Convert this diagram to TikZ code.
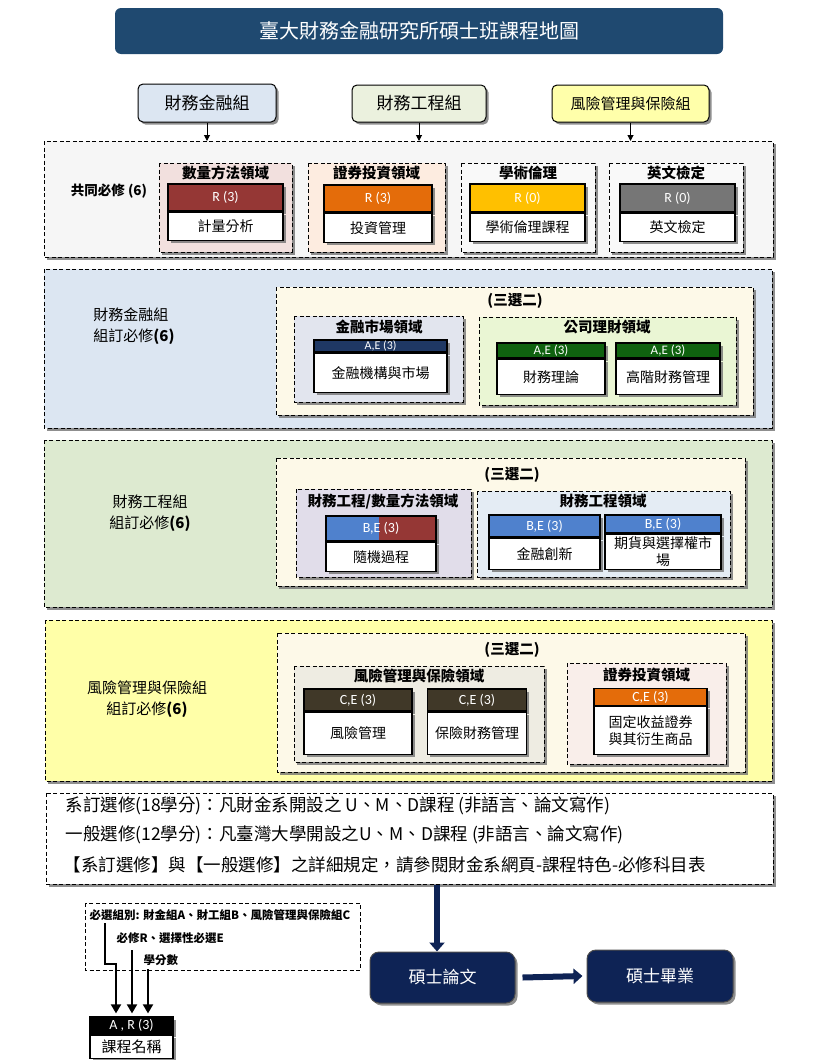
\documentclass[tikz,border=0pt]{standalone}
\usepackage{fontspec}
\setmainfont{Noto Sans CJK TC}
\newfontfamily\hdfont{Carlito}
\usetikzlibrary{positioning,shadows,arrows.meta}

\definecolor{titlebg}{RGB}{31,73,112}
\definecolor{finbg}{RGB}{220,230,242}
\definecolor{engbg}{RGB}{221,234,208}
\definecolor{enggrp}{RGB}{235,241,222}
\definecolor{riskbg}{RGB}{255,255,168}
\definecolor{riskgrp}{RGB}{255,255,170}
\definecolor{commbg}{RGB}{246,246,246}
\definecolor{pickbg}{RGB}{253,249,232}
\definecolor{quantbg}{RGB}{242,224,222}
\definecolor{investbg}{RGB}{253,236,224}
\definecolor{ethicbg}{RGB}{249,249,249}
\definecolor{mktbg}{RGB}{226,229,238}
\definecolor{corpbg}{RGB}{234,246,212}
\definecolor{fqbg}{RGB}{225,221,234}
\definecolor{fengbg}{RGB}{228,236,244}
\definecolor{riskdombg}{RGB}{238,236,226}
\definecolor{investbgb}{RGB}{249,238,234}
\definecolor{hdred}{RGB}{149,55,53}
\definecolor{hdorange}{RGB}{228,108,10}
\definecolor{hdgold}{RGB}{255,192,0}
\definecolor{hdgrey}{RGB}{118,118,118}
\definecolor{hdnavy}{RGB}{31,56,100}
\definecolor{hdgreen}{RGB}{15,98,15}
\definecolor{hdblue}{RGB}{79,129,205}
\definecolor{hdolive}{RGB}{64,56,40}
\definecolor{endnavy}{RGB}{14,35,85}

\tikzset{
  shad/.style={drop shadow={shadow xshift=2.5pt,shadow yshift=-2.5pt,fill=black!55,opacity=.8}},
  region/.style={draw,line width=1pt,dash pattern=on 4pt off 2.5pt,shad},
  grp/.style={draw,line width=1pt,rounded corners=5pt,shad,font=\fontsize{17}{19}\selectfont},
  garrow/.style={line width=1pt,-{Triangle[length=6pt,width=6pt]}},
  lbl/.style={font=\fontsize{15}{21}\selectfont},
  dom/.style={font=\bfseries\fontsize{14.5}{16}\selectfont},
  pick/.style={font=\bfseries\fontsize{14.5}{16}\selectfont},
  hd/.style={draw,line width=1.2pt,inner sep=0pt,text=white,shad,font=\hdfont\fontsize{14}{15}\selectfont},
  bd/.style={draw,line width=1.2pt,fill=white,inner sep=0.5pt,align=center,shad,anchor=north,font=\fontsize{14}{16}\selectfont},
  note/.style={anchor=west,font=\fontsize{17.5}{20}\selectfont},
  leg/.style={anchor=west,font=\bfseries\fontsize{11.5}{13}\selectfont},
  larrow/.style={line width=1.8pt,shorten >=3pt,-{Triangle[length=9pt,width=10pt]}},
  endbox/.style={fill=endnavy,draw=black!70,line width=1pt,rounded corners=9pt,shad,text=white,font=\fontsize{17}{19}\selectfont},
  bigarrow/.style={endnavy,line width=6pt,-{Triangle[length=9pt,width=15pt]}}
}

\begin{document}
\begin{tikzpicture}[x=1pt,y=-1pt]
\useasboundingbox (0,0) rectangle (818,1060);

% title and groups
\node [fill=titlebg,rounded corners=6pt,minimum width=608pt,minimum height=46pt,text=white,font=\fontsize{20}{22}\selectfont] (title) at (419,31) {臺大財務金融研究所碩士班課程地圖};
\node [grp,fill=finbg,minimum width=138pt,minimum height=38pt] (gfin) at (207,103) {財務金融組};
\node [grp,fill=enggrp,minimum width=134pt,minimum height=37pt] (geng) at (419,103.5) {財務工程組};
\node [grp,fill=riskgrp,minimum width=157pt,minimum height=37pt,font=\fontsize{15}{17}\selectfont] (grisk) at (630.5,103.5) {風險管理與保險組};

% common
\draw [region,fill=commbg] (44,141) rectangle (773,257);
\coordinate (s1) at (0,141);
\draw [garrow] (gfin.south) -- (gfin.south |- s1);
\draw [garrow] (geng.south) -- (geng.south |- s1);
\draw [garrow] (grisk.south) -- (grisk.south |- s1);
\node [font=\bfseries\fontsize{13.5}{15}\selectfont] (req) at (109,191) {共同必修 (6)};
\draw [region,fill=quantbg] (159,163) rectangle (292,252);
\draw [region,fill=investbg] (308,163) rectangle (445,252);
\draw [region,fill=ethicbg] (461,163) rectangle (595,252);
\draw [region,fill=ethicbg] (609,163) rectangle (743,252);
\node [dom] (d1) at (225.5,173) {數量方法領域};
\node [dom] (d2) at (376.5,173) {證券投資領域};
\node [dom] (d3) at (528,173) {學術倫理};
\node [dom] (d4) at (676,173) {英文檢定};
\node [hd,fill=hdred,minimum width=115pt,minimum height=27pt] (c1h) at (225.5,197.5) {R (3)};
\node [bd,minimum width=115pt,minimum height=28pt] (c1b) at (c1h.south) {計量分析};
\node [hd,fill=hdorange,minimum width=108pt,minimum height=27pt] (c2h) at (378,198.5) {R (3)};
\node [bd,minimum width=108pt,minimum height=29pt] (c2b) at (c2h.south) {投資管理};
\node [hd,fill=hdgold,minimum width=115pt,minimum height=28pt] (c3h) at (527.5,198) {R (0)};
\node [bd,minimum width=115pt,minimum height=28pt] (c3b) at (c3h.south) {學術倫理課程};
\node [hd,fill=hdgrey,minimum width=115pt,minimum height=28pt] (c4h) at (677.5,198) {R (0)};
\node [bd,minimum width=115pt,minimum height=28pt] (c4b) at (c4h.south) {英文檢定};

% finance group
\draw [region,fill=finbg] (44,269) rectangle (772,428);
\node [lbl,align=left] (finreq) at (134,326) {財務金融組\\組訂必修\textbf{(6)}};
\draw [region,fill=pickbg] (276,287) rectangle (753,415);
\node [pick] (p1) at (515,301) {(三選二)};
\draw [region,fill=mktbg] (294,316) rectangle (463,402);
\draw [region,fill=corpbg] (479,317) rectangle (736,405);
\node [dom] (d5) at (379,327) {金融市場領域};
\node [dom] (d6) at (607,327) {公司理財領域};
\node [hd,fill=hdnavy,minimum width=133pt,minimum height=12pt,font=\hdfont\fontsize{12}{12}\selectfont] (c5h) at (380.5,346) {A,E (3)};
\node [bd,minimum width=133pt,minimum height=39pt] (c5b) at (c5h.south) {金融機構與市場};
\node [hd,fill=hdgreen,minimum width=108pt,minimum height=15pt,font=\hdfont\fontsize{13}{14}\selectfont] (c6h) at (551,350.5) {A,E (3)};
\node [bd,minimum width=108pt,minimum height=35pt] (c6b) at (c6h.south) {財務理論};
\node [hd,fill=hdgreen,minimum width=104pt,minimum height=15pt,font=\hdfont\fontsize{13}{14}\selectfont] (c7h) at (668,350.5) {A,E (3)};
\node [bd,minimum width=104pt,minimum height=35pt] (c7b) at (c7h.south) {高階財務管理};

% engineering group
\draw [region,fill=engbg] (44,440) rectangle (772,607);
\node [lbl,align=center] (engreq) at (150,513) {財務工程組\\組訂必修\textbf{(6)}};
\draw [region,fill=pickbg] (276,458) rectangle (745,586);
\node [pick] (p2) at (512,475) {(三選二)};
\draw [region,fill=fqbg] (296,489) rectangle (471,577);
\draw [region,fill=fengbg] (477,491) rectangle (730,577);
\node [dom] (d7) at (383,501) {財務工程/數量方法領域};
\node [dom] (d8) at (603,501) {財務工程領域};
\node [hd,fill=hdblue,minimum width=110pt,minimum height=25pt,
  path picture={\fill[hdred] ([xshift=-2pt]path picture bounding box.north) rectangle (path picture bounding box.south east);}] (c8h) at (381,528.5) {B,E (3)};
\node [bd,minimum width=110pt,minimum height=29pt] (c8b) at (c8h.south) {隨機過程};
\node [hd,fill=hdblue,minimum width=111pt,minimum height=22pt] (c9h) at (544.5,526) {B,E (3)};
\node [bd,minimum width=111pt,minimum height=31pt] (c9b) at (c9h.south) {金融創新};
\node [hd,fill=hdblue,minimum width=116pt,minimum height=18pt] (c10h) at (663,524) {B,E (3)};
\node [bd,minimum width=116pt,minimum height=35pt,font=\fontsize{14}{16.5}\selectfont] (c10b) at (c10h.south) {期貨與選擇權市\\場};

% risk group
\draw [region,fill=riskbg] (45,620) rectangle (772,781);
\node [lbl,align=center] (riskreq) at (147,699) {風險管理與保險組\\組訂必修\textbf{(6)}};
\draw [region,fill=pickbg] (277,633) rectangle (745,772);
\node [pick] (p3) at (512,650) {(三選二)};
\draw [region,fill=riskdombg] (294,666) rectangle (544,762);
\draw [region,fill=investbgb] (567,663) rectangle (726,764);
\node [dom] (d9) at (419,676) {風險管理與保險領域};
\node [dom] (d10) at (646.5,675) {證券投資領域};
\node [hd,fill=hdolive,minimum width=108pt,minimum height=22pt] (c11h) at (358,700) {C,E (3)};
\node [bd,minimum width=108pt,minimum height=42pt] (c11b) at (c11h.south) {風險管理};
\node [hd,fill=hdolive,minimum width=99pt,minimum height=22pt] (c12h) at (477,700) {C,E (3)};
\node [bd,minimum width=99pt,minimum height=42pt] (c12b) at (c12h.south) {保險財務管理};
\node [hd,fill=hdorange,minimum width=113pt,minimum height=17pt] (c13h) at (650.5,697) {C,E (3)};
\node [bd,minimum width=113pt,minimum height=48pt,font=\fontsize{14}{17}\selectfont] (c13b) at (c13h.south) {固定收益證券\\與其衍生商品};

% electives
\draw [region,fill=white] (46,793) rectangle (773,884);
\node [note] (el1) at (62,806) {系訂選修(18學分)：凡財金系開設之 U、M、D課程 (非語言、論文寫作)};
\node [note] (el2) at (62,835) {一般選修(12學分)：凡臺灣大學開設之U、M、D課程 (非語言、論文寫作)};
\node [note] (el3) at (60,865) {【系訂選修】與【一般選修】之詳細規定，請參閱財金系網頁-課程特色-必修科目表};

% thesis
\node [endbox,minimum width=145pt,minimum height=51pt] (thesis) at (442.5,977.5) {碩士論文};
\node [endbox,minimum width=146pt,minimum height=52pt] (grad) at (660,976) {碩士畢業};
\coordinate (nb) at (437,885);
\draw [bigarrow] (nb) -- (nb |- thesis.north);
\draw [bigarrow] ([xshift=7pt]thesis.east) -- ([xshift=-4pt]grad.west);

% legend
\draw [line width=0.9pt,dash pattern=on 4pt off 2.5pt] (85,903) rectangle (360,970);
\node [leg] (lg1) at (86,915) {必選組別: 財金組A、財工組B、風險管理與保險組C};
\node [leg] (lg2) at (113,938) {必修R、選擇性必選E};
\node [leg] (lg3) at (140,960) {學分數};
\node [hd,fill=black,minimum width=83pt,minimum height=17pt,font=\hdfont\fontsize{14}{15}\selectfont] (lh) at (131.5,1025.5) {A , R (3)};
\node [bd,minimum width=83pt,minimum height=23pt,font=\fontsize{15}{17}\selectfont] (lb) at (lh.south) {課程名稱};
\coordinate (a1) at (105,923);
\coordinate (k1) at (116,964);
\coordinate (a2) at (132,950);
\coordinate (a3) at (148,969);
\draw [larrow] (a1) |- (k1) -- (k1 |- lh.north);
\draw [larrow] (a2) -- (a2 |- lh.north);
\draw [larrow] (a3) -- (a3 |- lh.north);
\end{tikzpicture}
\end{document}
